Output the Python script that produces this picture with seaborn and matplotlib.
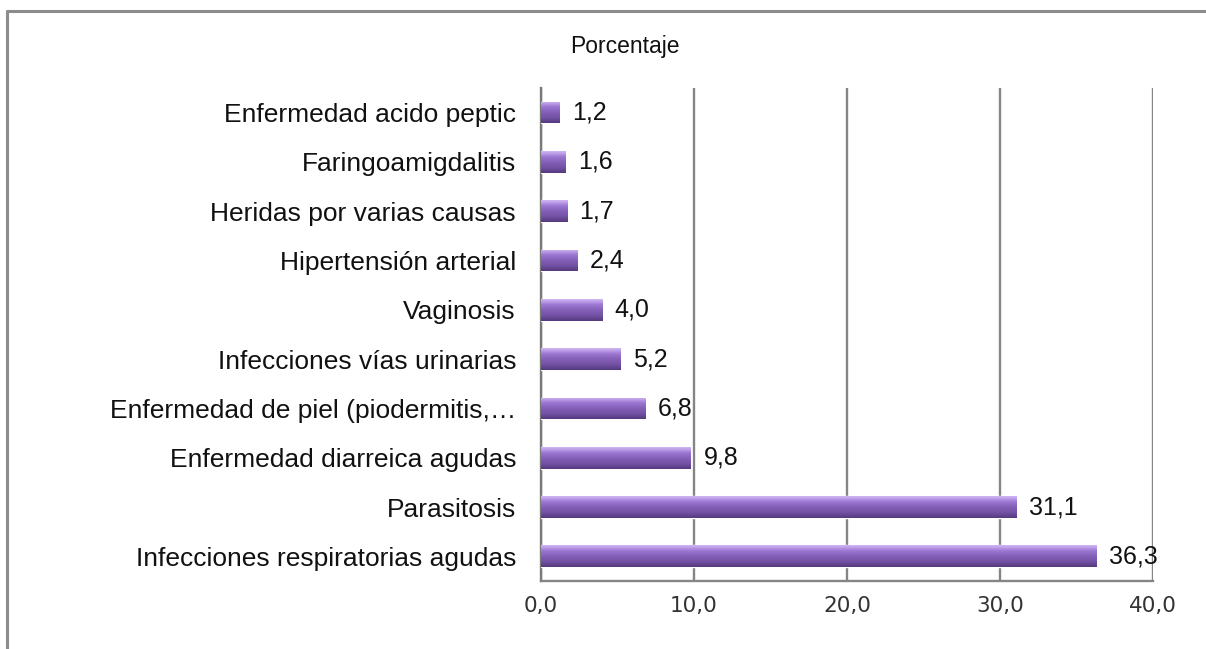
import numpy as np
import pandas as pd
import seaborn as sns
import matplotlib.pyplot as plt
from matplotlib.colors import LinearSegmentedColormap
from matplotlib.lines import Line2D

# data (top to bottom as shown)
categorias = [
    "Enfermedad acido peptic",
    "Faringoamigdalitis",
    "Heridas por varias causas",
    "Hipertensión arterial",
    "Vaginosis",
    "Infecciones vías urinarias",
    "Enfermedad de piel (piodermitis,\u2026",
    "Enfermedad diarreica agudas",
    "Parasitosis",
    "Infecciones respiratorias agudas",
]
porcentajes = [1.2, 1.6, 1.7, 2.4, 4.0, 5.2, 6.8, 9.8, 31.1, 36.3]
x_ticks = [0, 10, 20, 30, 40]

df = pd.DataFrame({"categoria": categorias, "porcentaje": porcentajes})

sns.set_theme(style="white")
plt.rcParams["font.family"] = ["Liberation Sans", "DejaVu Sans"]

fig = plt.figure(figsize=(12.06, 6.49), dpi=100)
ax = fig.add_axes([0.4486, 0.1048, 0.5075, 0.7596])

sns.barplot(data=df, x="porcentaje", y="categoria", orient="h",
            color="#7d57b0", width=0.44, ax=ax, zorder=3)
ax.set_xlim(0, 40)
ylim = ax.get_ylim()

# purple gradient inside each bar (light top edge, darker bottom)
cmap = LinearSegmentedColormap.from_list(
    "morado", ["#d2b8f5", "#9d78d4", "#8560b8", "#7352a6", "#55397d"])
grad = np.linspace(0, 1, 64).reshape(-1, 1)
for p in ax.patches:
    x0, y0 = p.get_x(), p.get_y()
    w, h = p.get_width(), p.get_height()
    im = ax.imshow(grad, cmap=cmap, aspect="auto", zorder=4,
                   extent=[x0, x0 + w, y0 + h, y0], interpolation="bicubic")
    im.set_clip_path(p)
ax.set_ylim(ylim)
ax.set_xlim(0, 40)
ax.set_aspect("auto")

ax.set_xticks(x_ticks)
ax.set_xticklabels([f"{v:.1f}".replace(".", ",") for v in x_ticks],
                   fontsize=15.5, family="DejaVu Sans", color="#333333")
ax.set_yticks(range(len(categorias)))
ax.set_yticklabels(categorias)
ax.tick_params(axis="x", length=0, pad=11)
ax.tick_params(axis="y", length=0, pad=18, labelsize=19, labelcolor="#111111")
ax.set_xlabel("")
ax.set_ylabel("")

ax.grid(axis="x", color="#858585", linewidth=1.7, zorder=0)
ax.set_axisbelow(True)
for side in ["top", "right"]:
    ax.spines[side].set_visible(False)
ax.spines["left"].set_color("#7a7a7a")
ax.spines["left"].set_linewidth(1.7)
ax.spines["bottom"].set_color("#858585")
ax.spines["bottom"].set_linewidth(1.7)

ax.bar_label(ax.containers[0],
             labels=[f"{v:.1f}".replace(".", ",") for v in porcentajes],
             padding=9, fontsize=18, color="#111111", zorder=6)

fig.text(625 / 1206, 1 - 47 / 649, "Porcentaje", ha="center", va="center",
         fontsize=16.5, color="#111111")

# outer chart border (left and top visible)
fig.add_artist(Line2D([7 / 1206, 7 / 1206], [0, 1 - 11 / 649],
                      transform=fig.transFigure, color="#8c8c8c", linewidth=2.2))
fig.add_artist(Line2D([7 / 1206, 1], [1 - 11 / 649, 1 - 11 / 649],
                      transform=fig.transFigure, color="#8c8c8c", linewidth=2.2))

fig.savefig("out.png", dpi=100, facecolor="white")
